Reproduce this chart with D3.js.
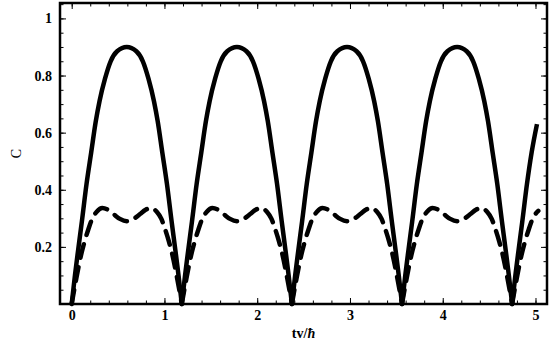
<!DOCTYPE html>
<html>
<head>
<meta charset="utf-8">
<script src="https://cdn.jsdelivr.net/npm/d3@7"></script>
<style>
  body { margin: 0; background: #fff; }
  text { font-family: "Liberation Serif", "Times New Roman", serif; fill: #000; }
</style>
</head>
<body>
<div class="chart"></div>
<script>
(() => {
  // solid curve, arches touch zero at each cusp
  const solidT = [
    0, 0.035, 0.07, 0.11, 0.16, 0.21, 0.26, 0.30, 0.36, 0.42, 0.49, 0.594, 0.697, 0.767, 0.827, 0.887, 0.927, 0.977, 1.027, 1.077, 1.117, 1.152, 1.187,
    1.222, 1.257, 1.297, 1.347, 1.397, 1.447, 1.487, 1.547, 1.607, 1.677, 1.781, 1.884, 1.954, 2.014, 2.074, 2.114, 2.164, 2.214, 2.264, 2.304, 2.339, 2.374,
    2.409, 2.444, 2.484, 2.534, 2.584, 2.634, 2.674, 2.734, 2.794, 2.864, 2.968, 3.071, 3.141, 3.201, 3.261, 3.301, 3.351, 3.401, 3.451, 3.491, 3.526, 3.561,
    3.596, 3.631, 3.671, 3.721, 3.771, 3.821, 3.861, 3.921, 3.981, 4.051, 4.155, 4.258, 4.328, 4.388, 4.448, 4.488, 4.538, 4.588, 4.638, 4.678, 4.713, 4.748,
    4.783, 4.818, 4.858, 4.908, 4.958, 5.016
  ];
  const solidC = [
    0, 0.10, 0.19, 0.29, 0.42, 0.53, 0.64, 0.71, 0.79, 0.85, 0.885, 0.90, 0.885, 0.85, 0.79, 0.71, 0.64, 0.53, 0.42, 0.29, 0.19, 0.10, 0,
    0.10, 0.19, 0.29, 0.42, 0.53, 0.64, 0.71, 0.79, 0.85, 0.885, 0.90, 0.885, 0.85, 0.79, 0.71, 0.64, 0.53, 0.42, 0.29, 0.19, 0.10, 0,
    0.10, 0.19, 0.29, 0.42, 0.53, 0.64, 0.71, 0.79, 0.85, 0.885, 0.90, 0.885, 0.85, 0.79, 0.71, 0.64, 0.53, 0.42, 0.29, 0.19, 0.10, 0,
    0.10, 0.19, 0.29, 0.42, 0.53, 0.64, 0.71, 0.79, 0.85, 0.885, 0.90, 0.885, 0.85, 0.79, 0.71, 0.64, 0.53, 0.42, 0.29, 0.19, 0.10, 0,
    0.10, 0.19, 0.29, 0.42, 0.53, 0.63
  ];

  // dashed curve
  const dashT = [
    0, 0.05, 0.10, 0.14, 0.18, 0.22, 0.27, 0.33, 0.39, 0.45, 0.52, 0.594, 0.667, 0.737, 0.797, 0.857, 0.917, 0.967, 1.007, 1.047, 1.087, 1.137, 1.187,
    1.237, 1.287, 1.327, 1.367, 1.407, 1.457, 1.517, 1.577, 1.637, 1.707, 1.781, 1.854, 1.924, 1.984, 2.044, 2.104, 2.154, 2.194, 2.234, 2.274, 2.324, 2.374,
    2.424, 2.474, 2.514, 2.554, 2.594, 2.644, 2.704, 2.764, 2.824, 2.894, 2.968, 3.041, 3.111, 3.171, 3.231, 3.291, 3.341, 3.381, 3.421, 3.461, 3.511, 3.561,
    3.611, 3.661, 3.701, 3.741, 3.781, 3.831, 3.891, 3.951, 4.011, 4.081, 4.155, 4.228, 4.298, 4.358, 4.418, 4.478, 4.528, 4.568, 4.608, 4.648, 4.698, 4.748,
    4.798, 4.848, 4.888, 4.928, 4.968, 5.03
  ];
  const dashC = [
    0, 0.09, 0.17, 0.22, 0.262, 0.298, 0.323, 0.336, 0.330, 0.315, 0.298, 0.290, 0.298, 0.315, 0.330, 0.336, 0.323, 0.298, 0.262, 0.22, 0.17, 0.09, 0,
    0.09, 0.17, 0.22, 0.262, 0.298, 0.323, 0.336, 0.330, 0.315, 0.298, 0.290, 0.298, 0.315, 0.330, 0.336, 0.323, 0.298, 0.262, 0.22, 0.17, 0.09, 0,
    0.09, 0.17, 0.22, 0.262, 0.298, 0.323, 0.336, 0.330, 0.315, 0.298, 0.290, 0.298, 0.315, 0.330, 0.336, 0.323, 0.298, 0.262, 0.22, 0.17, 0.09, 0,
    0.09, 0.17, 0.22, 0.262, 0.298, 0.323, 0.336, 0.330, 0.315, 0.298, 0.290, 0.298, 0.315, 0.330, 0.336, 0.323, 0.298, 0.262, 0.22, 0.17, 0.09, 0,
    0.09, 0.17, 0.22, 0.262, 0.298, 0.326
  ];

  const xTicks = [0, 1, 2, 3, 4, 5];
  const yTicks = [0.2, 0.4, 0.6, 0.8, 1];

  const width = 557, height = 345;
  const margin = { top: 3, right: 10, bottom: 41, left: 60 };
  const innerWidth = width - margin.left - margin.right;
  const innerHeight = height - margin.top - margin.bottom;

  const svg = d3.select(".chart").append("svg")
    .attr("width", width)
    .attr("height", height);

  const g = svg.append("g")
    .attr("transform", `translate(${margin.left},${margin.top})`);

  const x = d3.scaleLinear().domain([-0.126, 5.124]).range([0, innerWidth]);
  const y = d3.scaleLinear().domain([0, 1.054]).range([innerHeight, 0]);

  // minor ticks (inward, all four sides)
  const xMinor = d3.range(0, 5.01, 0.2);
  const yMinor = d3.range(0.05, 1.051, 0.05);
  const noLabel = () => "";

  const ticks = g.append("g").attr("class", "ticks");
  ticks.append("g").attr("transform", `translate(0,${innerHeight})`)
    .call(d3.axisBottom(x).tickValues(xMinor).tickSize(-3.5).tickFormat(noLabel));
  ticks.append("g")
    .call(d3.axisTop(x).tickValues(xMinor).tickSize(-3.5).tickFormat(noLabel));
  ticks.append("g")
    .call(d3.axisLeft(y).tickValues(yMinor).tickSize(-3.5).tickFormat(noLabel));
  ticks.append("g").attr("transform", `translate(${innerWidth},0)`)
    .call(d3.axisRight(y).tickValues(yMinor).tickSize(-3.5).tickFormat(noLabel));

  // major ticks with labels
  const xAxisG = g.append("g").attr("transform", `translate(0,${innerHeight})`)
    .call(d3.axisBottom(x).tickValues(xTicks).tickSize(-6).tickPadding(6).tickFormat(d3.format("d")));
  const yAxisG = g.append("g")
    .call(d3.axisLeft(y).tickValues(yTicks).tickSize(-6).tickPadding(8).tickFormat(d => d === 1 ? "1" : d3.format(".1f")(d)));
  g.append("g").call(d3.axisTop(x).tickValues(xTicks).tickSize(-6).tickFormat(noLabel));
  g.append("g").attr("transform", `translate(${innerWidth},0)`)
    .call(d3.axisRight(y).tickValues(yTicks).tickSize(-6).tickFormat(noLabel));

  g.selectAll(".domain").remove();
  g.selectAll(".tick line").attr("stroke", "#000").attr("stroke-width", 1);
  [xAxisG, yAxisG].forEach(a => a.selectAll("text")
    .style("font-family", "'Liberation Serif', serif")
    .style("font-size", "14px")
    .style("font-weight", "bold"));

  // curves, split into arches at the zero cusps
  const toArches = (ts, cs) => {
    const arches = [];
    let cur = [];
    ts.forEach((t, i) => {
      cur.push({ t, c: cs[i] });
      if (cs[i] === 0 && cur.length > 1) {
        arches.push(cur);
        cur = [{ t, c: 0 }];
      }
    });
    if (cur.length > 1) arches.push(cur);
    return arches;
  };

  const line = d3.line()
    .x(d => x(d.t))
    .y(d => y(d.c))
    .curve(d3.curveMonotoneX);

  const plot = g.append("g");

  plot.selectAll("path.dash").data(toArches(dashT, dashC))
    .enter().append("path")
    .attr("class", "dash")
    .attr("d", line)
    .attr("fill", "none")
    .attr("stroke", "#000")
    .attr("stroke-width", 4.5)
    .attr("stroke-linecap", "round")
    .attr("stroke-dasharray", "14,9.5");

  plot.selectAll("path.solid").data(toArches(solidT, solidC))
    .enter().append("path")
    .attr("class", "solid")
    .attr("d", line)
    .attr("fill", "none")
    .attr("stroke", "#000")
    .attr("stroke-width", 4.5)
    .attr("stroke-linejoin", "round")
    .attr("stroke-linecap", "butt");

  // frame
  g.append("rect")
    .attr("x", 0).attr("y", 0)
    .attr("width", innerWidth).attr("height", innerHeight)
    .attr("fill", "none")
    .attr("stroke", "#000")
    .attr("stroke-width", 2.5);

  // axis labels
  const xl = svg.append("text")
    .attr("x", margin.left + innerWidth / 2)
    .attr("y", 338)
    .attr("text-anchor", "middle")
    .style("font-size", "14px")
    .style("font-weight", "bold");
  xl.append("tspan").text("tv/");
  xl.append("tspan").style("font-style", "italic").text("ħ");

  svg.append("text")
    .attr("transform", `translate(21,${margin.top + innerHeight / 2}) rotate(-90)`)
    .attr("text-anchor", "middle")
    .style("font-size", "14px")
    .text("C");
})();
</script>
</body>
</html>
